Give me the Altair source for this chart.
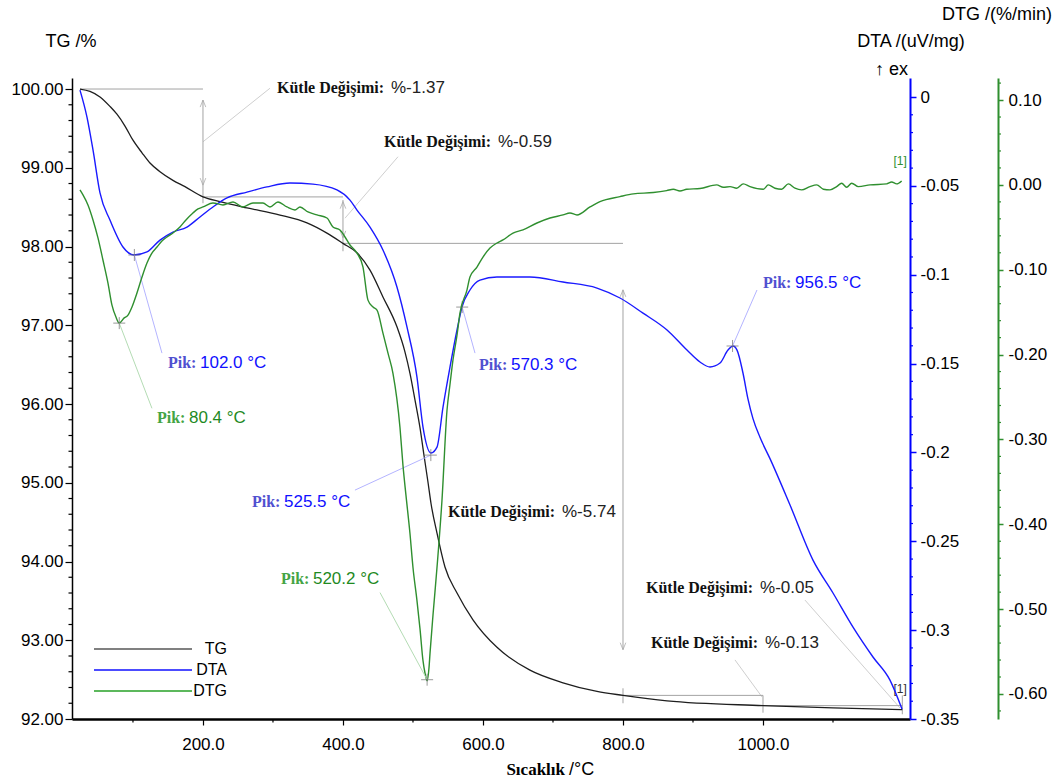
import altair as alt
import pandas as pd

# ---------------- data ----------------
tg_temp = [24.3, 38.6, 52.9, 67.1, 77.1, 88.6, 100.0, 112.9, 124.3, 138.6, 157.1, 174.3,
           200.0, 224.3, 262.9, 310.0, 348.6, 377.1, 400.0, 420.0, 438.6, 457.1, 477.1,
           488.6, 495.7, 502.9, 510.0, 515.7, 521.4, 525.7, 534.3, 545.7, 562.9, 585.7,
           620.0, 667.1, 714.3, 762.9, 800.0, 862.9, 1000.0, 1100.0, 1199.0]
tg_mass = [100.00, 99.97, 99.90, 99.78, 99.68, 99.53, 99.35, 99.19, 99.06, 98.95, 98.84, 98.76,
           98.63, 98.57, 98.49, 98.40, 98.30, 98.17, 98.04, 97.92, 97.70, 97.36, 96.98,
           96.66, 96.39, 96.05, 95.70, 95.35, 95.01, 94.74, 94.36, 93.93, 93.60, 93.26,
           92.91, 92.62, 92.46, 92.35, 92.30, 92.23, 92.17, 92.14, 92.12]

dta_temp = [24.3, 34.3, 42.9, 52.9, 67.1, 85.7, 101.4, 120.0, 138.6, 157.1, 177.1, 195.7,
            214.3, 234.3, 262.9, 291.4, 324.3, 357.1, 391.4, 410.0, 420.0, 438.6, 457.1,
            477.1, 491.4, 505.7, 514.3, 525.7, 534.3, 542.9, 552.9, 562.9, 570.0, 581.4,
            595.7, 620.0, 642.9, 667.1, 714.3, 762.9, 795.7, 828.6, 862.9, 891.4, 910.0,
            924.3, 938.6, 950.0, 957.1, 962.9, 971.4, 978.6, 985.7, 995.7, 1010.0, 1038.6,
            1071.4, 1100.0, 1128.6, 1157.1, 1181.4, 1198.6]
dta_signal = [0.0039, -0.0113, -0.0298, -0.0540, -0.0692, -0.0844, -0.0889, -0.0872, -0.0805,
              -0.0760, -0.0732, -0.0675, -0.0619, -0.0568, -0.0535, -0.0506, -0.0484, -0.0490,
              -0.0523, -0.0580, -0.0636, -0.0732, -0.0861, -0.1069, -0.1294, -0.1576, -0.1857,
              -0.2003, -0.1970, -0.1745, -0.1519, -0.1311, -0.1182, -0.1086, -0.1030, -0.1013,
              -0.1013, -0.1013, -0.1041, -0.1075, -0.1131, -0.1216, -0.1311, -0.1424, -0.1491,
              -0.1519, -0.1497, -0.1424, -0.1401, -0.1424, -0.1553, -0.1700, -0.1810, -0.1915,
              -0.2035, -0.2296, -0.2606, -0.2791, -0.2983, -0.3151, -0.3281, -0.3444]

dtg_temp = [24.3, 28.6, 35.7, 42.9, 50.0, 57.1, 64.3, 70.0, 75.7, 80.4, 87.1, 92.9, 98.6,
            105.7, 112.9, 120.0, 127.1, 134.3, 141.4, 148.6, 157.1, 167.1, 175.7, 185.7,
            192.9, 200.0, 214.3, 228.6, 242.9, 257.1, 271.4, 285.7, 295.7, 307.1, 320.0,
            331.4, 338.6, 350.0, 362.9, 377.1, 385.7, 395.7, 402.9, 410.0, 420.0, 428.6,
            435.7, 442.9, 448.6, 457.1, 464.3, 471.4, 481.4, 485.7, 490.0, 495.7, 500.0,
            505.7, 510.0, 514.3, 517.1, 520.2, 522.9, 524.3, 528.6, 534.3, 541.4, 548.6,
            552.9, 557.1, 562.9, 567.1, 577.1, 581.4, 591.4, 600.0, 610.0, 620.0, 628.6,
            642.9, 657.1, 677.1, 695.7, 714.3, 724.3, 734.3, 752.9, 767.1, 795.7, 814.8,
            843.3, 862.4, 871.9, 881.4, 891.0, 910.0, 933.8, 943.3, 952.9, 962.4, 971.9,
            981.4, 1000.5, 1007.6, 1017.1, 1026.7, 1036.2, 1045.7, 1055.2, 1067.1, 1076.7,
            1086.2, 1095.7, 1105.2, 1112.4, 1119.5, 1126.7, 1136.2, 1152.9, 1176.7, 1183.8,
            1191.0, 1198.1]
dtg_rate = [-0.0059, -0.0118, -0.0236, -0.0413, -0.0625, -0.0885, -0.1157, -0.1417, -0.1558,
            -0.1629, -0.1570, -0.1535, -0.1440, -0.1275, -0.1086, -0.0921, -0.0803, -0.0732,
            -0.0661, -0.0614, -0.0567, -0.0496, -0.0413, -0.0331, -0.0283, -0.0260, -0.0213,
            -0.0236, -0.0201, -0.0260, -0.0213, -0.0213, -0.0260, -0.0201, -0.0260, -0.0295,
            -0.0260, -0.0319, -0.0354, -0.0390, -0.0496, -0.0531, -0.0614, -0.0708, -0.0803,
            -0.0968, -0.1358, -0.1440, -0.1476, -0.1747, -0.1983, -0.2220, -0.2857, -0.3306,
            -0.3660, -0.4109, -0.4510, -0.4900, -0.5230, -0.5608, -0.5750, -0.5844, -0.5690,
            -0.5525, -0.5070, -0.4510, -0.3719, -0.2656, -0.2350, -0.2066, -0.1770, -0.1511,
            -0.1240, -0.1086, -0.0968, -0.0850, -0.0744, -0.0685, -0.0649, -0.0567, -0.0531,
            -0.0449, -0.0390, -0.0354, -0.0331, -0.0354, -0.0260, -0.0197, -0.0138, -0.0106,
            -0.0090, -0.0067, -0.0051, -0.0071, -0.0051, -0.0043, 0.0000, -0.0028, -0.0020,
            -0.0039, 0.0012, -0.0020, -0.0051, 0.0000, -0.0039, -0.0051, 0.0012, -0.0039,
            -0.0059, -0.0020, 0.0000, -0.0051, -0.0059, -0.0020, 0.0020, -0.0028, 0.0020,
            -0.0020, 0.0000, 0.0012, 0.0035, 0.0012, 0.0047]

# mass-change brackets (TG units)
seg_t1 = [24.3, 200.0, 200.0, 400.0, 400.0, 800.0, 800.0, 800.0, 1000.0, 1000.0, 1199.0]
seg_v1 = [100.00, 99.86, 98.63, 98.59, 98.04, 97.45, 92.39, 92.30, 92.30, 92.17, 92.30]
seg_t2 = [200.0, 200.0, 400.0, 400.0, 800.0, 800.0, 800.0, 1000.0, 1000.0, 1199.0, 1199.0]
seg_v2 = [100.00, 98.55, 98.63, 97.94, 98.04, 92.88, 92.20, 92.30, 92.08, 92.17, 92.06]
arrow_up_t = [200.0, 400.0, 800.0]
arrow_up_v = [99.86, 98.57, 97.45]
arrow_dn_t = [200.0, 400.0, 800.0]
arrow_dn_v = [98.78, 98.11, 92.88]
lead_t1 = [200.0, 402.9, 998.6, 1060.0]
lead_v1 = [99.33, 98.36, 92.28, 93.51]
lead_t2 = [295.7, 478.6, 960.0, 1195.7]
lead_v2 = [100.01, 99.14, 92.75, 92.14]
kutle_t = [305.7, 458.6, 550.0, 832.9, 840.0]
kutle_v = [100.01, 99.33, 94.63, 93.66, 92.97]
kutle_head = ["Kütle Değişimi:"] * 5
kutle_val = ["%-1.37", "%-0.59", "%-5.74", "%-0.05", "%-0.13"]

# DTA peaks
dta_pk_t = [102.0, 525.5, 570.3, 956.5]
dta_pk_v = [-0.0889, -0.2015, -0.1182, -0.1401]
dta_ld_t = [141.4, 417.1, 588.6, 991.4]
dta_ld_v = [-0.1441, -0.2212, -0.1441, -0.1086]
dta_lb_t = [150.0, 270.0, 594.3, 1000.0]
dta_lb_v = [-0.1497, -0.2279, -0.1508, -0.1047]
dta_lb = ["102.0 °C", "525.5 °C", "570.3 °C", "956.5 °C"]

# DTG peaks
dtg_pk_t = [80.4, 520.2]
dtg_pk_v = [-0.1629, -0.5832]
dtg_ld_t = [127.1, 452.9]
dtg_ld_v = [-0.2633, -0.4805]
dtg_lb_t = [134.3, 311.4]
dtg_lb_v = [-0.2751, -0.4640]
dtg_lb = ["80.4 °C", "520.2 °C"]

# axis ticks (major labelled, minor unlabelled)
x_major = [200, 400, 600, 800, 1000]
x_minor = [100, 300, 500, 700, 900, 1100]
tg_major = [92.0, 93.0, 94.0, 95.0, 96.0, 97.0, 98.0, 99.0, 100.0]
tg_minor = [round(92 + 0.2 * i, 2) for i in range(41) if i % 5 != 0]
dta_major = [0.0, -0.05, -0.1, -0.15, -0.2, -0.25, -0.3, -0.35]
dta_minor = [round(-0.01 * i, 2) for i in range(36) if i % 5 != 0]
dtg_major = [0.1, 0.0, -0.1, -0.2, -0.3, -0.4, -0.5, -0.6]
dtg_minor = [round(0.12 - 0.02 * i, 2) for i in range(38) if (i - 1) % 5 != 0]

# ---------------- style ----------------
SANS = "Liberation Sans"
SERIF = "Liberation Serif"
BLUE = "#1a1aff"
GREEN = "#2f8f2f"
MINUS = "\u2212"
W, H = 838, 641

x_scale = alt.Scale(domain=[12.9, 1210], nice=False, zero=False)
tg_scale = alt.Scale(domain=[92.0, 100.14], nice=False, zero=False)
dta_scale = alt.Scale(domain=[-0.35, 0.0107], nice=False, zero=False)
dtg_scale = alt.Scale(domain=[-0.6295, 0.126], nice=False, zero=False)

common = dict(title=None, grid=False, labelFont=SANS, labelFontSize=17, labelColor="black",
              labelOverlap=False, labelFlush=False, labelBound=False)

x_axis = alt.Axis(values=x_major, format=".1f", tickSize=6,
                  domainColor="black", domainWidth=2.5, tickColor="black", tickWidth=1.2,
                  labelPadding=11, **common)
tg_axis = alt.Axis(orient="left", values=tg_major, format=".2f", tickSize=7,
                   domainColor="black", domainWidth=1.5, tickColor="black", tickWidth=1.2,
                   labelPadding=2, **common)
dta_axis = alt.Axis(orient="right", values=dta_major, tickSize=6,
                    labelExpr="replace(format(datum.value, '~g'), '" + MINUS + "', '-')",
                    domainColor="#0000ff", domainWidth=2, tickColor="#0000ff", tickWidth=1.5,
                    labelPadding=4, **common)
dtg_axis = alt.Axis(orient="right", offset=88, values=dtg_major, tickSize=5,
                    labelExpr="replace(format(datum.value, '.2f'), '" + MINUS + "', '-')",
                    domainColor=GREEN, domainWidth=2, tickColor=GREEN, tickWidth=1.5,
                    labelPadding=5, **common)

one = alt.Data(values=[{"k": 0}])


def X(f, axis=None):
    if axis is None:
        return alt.X(f + ":Q", scale=x_scale)
    return alt.X(f + ":Q", scale=x_scale, axis=axis)


def Y(f, scale, axis=None):
    if axis is None:
        return alt.Y(f + ":Q", scale=scale)
    return alt.Y(f + ":Q", scale=scale, axis=axis)


def txt(text, x, y, **kw):
    return alt.Chart(one).mark_text(text=text, **kw).encode(x=alt.value(x), y=alt.value(y))


def hline(x1, x2, y, color, width):
    return alt.Chart(one).mark_rule(color=color, strokeWidth=width).encode(
        x=alt.value(x1), x2=alt.value(x2), y=alt.value(y))


def yminor(vals, scale, x1, x2, color):
    return alt.Chart(pd.DataFrame({"v": vals})).mark_rule(color=color, strokeWidth=1.2).encode(
        y=Y("v", scale), x=alt.value(x1), x2=alt.value(x2))


UP = "M-0.4,1L0,0L0.4,1"
DOWN = "M-0.4,-1L0,0L0.4,-1"
PLUS = "M-1,0L1,0M0,-1L0,1"

# ---------------- TG layer ----------------
tg_df = pd.DataFrame({"T": tg_temp, "V": tg_mass})
seg_df = pd.DataFrame({"T1": seg_t1, "V1": seg_v1, "T2": seg_t2, "V2": seg_v2})
lead_df = pd.DataFrame({"T1": lead_t1, "V1": lead_v1, "T2": lead_t2, "V2": lead_v2})
up_df = pd.DataFrame({"T": arrow_up_t, "V": arrow_up_v})
dn_df = pd.DataFrame({"T": arrow_dn_t, "V": arrow_dn_v})
kt_df = pd.DataFrame({"T": kutle_t, "V": kutle_v, "h": kutle_head, "v": kutle_val})

tg_layer = alt.layer(
    alt.Chart(lead_df).mark_rule(color="#cfcfcf", strokeWidth=1).encode(
        x=X("T1", x_axis), x2="T2:Q", y=Y("V1", tg_scale, tg_axis), y2="V2:Q"),
    alt.Chart(pd.DataFrame({"t": x_minor})).mark_rule(color="black", strokeWidth=1.2).encode(
        x=X("t"), y=alt.value(H), y2=alt.value(H + 3.5)),
    yminor(tg_minor, tg_scale, -3.5, 0, "black"),
    alt.Chart(seg_df).mark_rule(color="#a3a3a3", strokeWidth=1).encode(
        x=X("T1"), x2="T2:Q", y=Y("V1", tg_scale), y2="V2:Q"),
    alt.Chart(up_df).mark_point(shape=UP, size=196, filled=False, color="#a3a3a3", strokeWidth=1).encode(
        x=X("T"), y=Y("V", tg_scale)),
    alt.Chart(dn_df).mark_point(shape=DOWN, size=196, filled=False, color="#a3a3a3", strokeWidth=1).encode(
        x=X("T"), y=Y("V", tg_scale)),
    alt.Chart(kt_df).mark_text(font=SERIF, fontWeight="bold", fontSize=16, align="left",
                               baseline="middle", color="#111111").encode(
        x=X("T"), y=Y("V", tg_scale), text="h:N"),
    alt.Chart(kt_df).mark_text(font=SANS, fontSize=17, align="left", baseline="middle",
                               color="#222222", dx=114).encode(
        x=X("T"), y=Y("V", tg_scale), text="v:N"),
    alt.Chart(pd.DataFrame({"T": [1196.0], "V": [92.38], "t": ["[1]"]})).mark_text(
        font=SANS, fontSize=12, color="#333333", baseline="middle").encode(
        x=X("T"), y=Y("V", tg_scale), text="t:N"),
    alt.Chart(tg_df).mark_line(color="#1e1e1e", strokeWidth=1.3, interpolate="monotone").encode(
        x=X("T"), y=Y("V", tg_scale)),
)

# ---------------- DTA layer ----------------
dta_df = pd.DataFrame({"T": dta_temp, "V": dta_signal})
dpk = pd.DataFrame({"T": dta_pk_t, "V": dta_pk_v, "T2": dta_ld_t, "V2": dta_ld_v})
dlb = pd.DataFrame({"T": dta_lb_t, "V": dta_lb_v, "v": dta_lb})
dta_layer = alt.layer(
    alt.Chart(dta_df).mark_line(color=BLUE, strokeWidth=1.4, interpolate="monotone").encode(
        x=X("T"), y=Y("V", dta_scale, dta_axis)),
    yminor(dta_minor, dta_scale, W, W + 3, "#0000ff"),
    alt.Chart(dpk).mark_rule(color="#b4b4ff", strokeWidth=1).encode(
        x=X("T"), x2="T2:Q", y=Y("V", dta_scale), y2="V2:Q"),
    alt.Chart(dpk).mark_point(shape=PLUS, size=144, filled=False, color="#707070", strokeWidth=1).encode(
        x=X("T"), y=Y("V", dta_scale)),
    alt.Chart(dlb).mark_text(text="Pik:", font=SERIF, fontWeight="bold", fontSize=16, align="left",
                             baseline="middle", color="#5050d0").encode(
        x=X("T"), y=Y("V", dta_scale)),
    alt.Chart(dlb).mark_text(font=SANS, fontSize=17, align="left", baseline="middle",
                             color="#1010ff", dx=32).encode(
        x=X("T"), y=Y("V", dta_scale), text="v:N"),
)

# ---------------- DTG layer ----------------
dtg_df = pd.DataFrame({"T": dtg_temp, "V": dtg_rate})
gpk = pd.DataFrame({"T": dtg_pk_t, "V": dtg_pk_v, "T2": dtg_ld_t, "V2": dtg_ld_v})
glb = pd.DataFrame({"T": dtg_lb_t, "V": dtg_lb_v, "v": dtg_lb})
dtg_layer = alt.layer(
    alt.Chart(dtg_df).mark_line(color=GREEN, strokeWidth=1.4, interpolate="monotone").encode(
        x=X("T"), y=Y("V", dtg_scale, dtg_axis)),
    yminor(dtg_minor, dtg_scale, W + 88, W + 91, GREEN),
    alt.Chart(gpk).mark_rule(color="#b4dcb4", strokeWidth=1).encode(
        x=X("T"), x2="T2:Q", y=Y("V", dtg_scale), y2="V2:Q"),
    alt.Chart(gpk).mark_point(shape=PLUS, size=144, filled=False, color="#707070", strokeWidth=1).encode(
        x=X("T"), y=Y("V", dtg_scale)),
    alt.Chart(glb).mark_text(text="Pik:", font=SERIF, fontWeight="bold", fontSize=16, align="left",
                             baseline="middle", color="#44a444").encode(
        x=X("T"), y=Y("V", dtg_scale)),
    alt.Chart(glb).mark_text(font=SANS, fontSize=17, align="left", baseline="middle",
                             color="#1f8a1f", dx=32).encode(
        x=X("T"), y=Y("V", dtg_scale), text="v:N"),
    alt.Chart(pd.DataFrame({"T": [1196.0], "V": [0.028], "t": ["[1]"]})).mark_text(
        font=SANS, fontSize=12, color=GREEN, baseline="middle").encode(
        x=X("T"), y=Y("V", dtg_scale), text="t:N"),
)

# ---------------- titles and legend (page layout) ----------------
deco = alt.layer(
    txt("TG /%", -1, -36, font=SANS, fontSize=18, align="center", baseline="middle", color="black"),
    txt("DTA /(uV/mg)", 839, -36, font=SANS, fontSize=18, align="center", baseline="middle", color="black"),
    txt("\u2191 ex", 836, -8, font=SANS, fontSize=18, align="right", baseline="middle", color="black"),
    txt("DTG /(%/min)", 925, -63, font=SANS, fontSize=18, align="center", baseline="middle", color="black"),
    txt("Sıcaklık", 493, 692, font=SERIF, fontWeight="bold", fontSize=17, align="right", baseline="middle", color="black"),
    txt("/°C", 497, 692, font=SANS, fontSize=18, align="left", baseline="middle", color="black"),
    hline(22, 120, 571, "#808080", 1.8),
    hline(22, 120, 592, "#1010ff", 1.3),
    hline(22, 120, 613, "#5cb85c", 2.2),
    txt("TG", 155, 571, font=SANS, fontSize=16, align="right", baseline="middle", color="black"),
    txt("DTA", 155, 592, font=SANS, fontSize=16, align="right", baseline="middle", color="black"),
    txt("DTG", 155, 613, font=SANS, fontSize=16, align="right", baseline="middle", color="black"),
)

chart = alt.layer(tg_layer, dta_layer, dtg_layer, deco).resolve_scale(y="independent").properties(
    width=W, height=H,
    padding={"left": 72, "top": 78, "right": 150, "bottom": 64},
    autosize=alt.AutoSizeParams(type="none"),
    background="white",
).configure_view(stroke=None)

chart.save("out.html", embed_options={"renderer": "svg", "actions": False})
